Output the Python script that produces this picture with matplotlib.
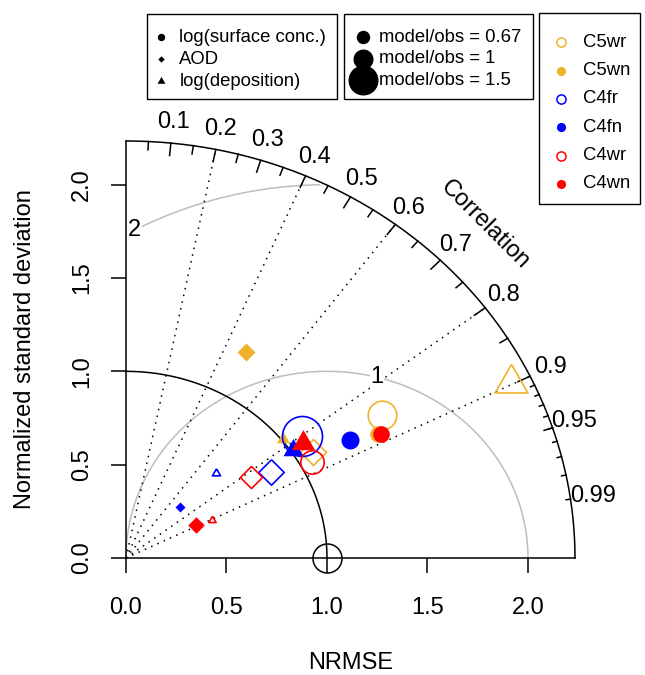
import numpy as np
import matplotlib
matplotlib.use('Agg')
import matplotlib.pyplot as plt
from matplotlib.lines import Line2D
from matplotlib.patches import Rectangle

plt.rcParams['font.family'] = ['Liberation Sans', 'DejaVu Sans']

# models (colour + open/filled) and variables (marker shape)
models = ['C5wr', 'C5wn', 'C4fr', 'C4fn', 'C4wr', 'C4wn']
model_colors = ['#F0B22A', '#F0B22A', '#0000FF', '#0000FF', '#FF0000', '#FF0000']
model_filled = [False, True, False, True, False, True]
variables = ['log(surface conc.)', 'AOD', 'log(deposition)']

# normalized standard deviation, correlation and model/obs ratio, one value per model
sd_surface = [1.485, 1.419, 1.091, 1.281, 1.061, 1.430]
cor_surface = [0.857, 0.884, 0.801, 0.870, 0.874, 0.886]
ratio_surface = [1.43, 0.83, 2.00, 0.90, 1.17, 0.83]

sd_aod = [1.092, 1.255, 0.855, 0.383, 0.758, 0.389]
cor_aod = [0.853, 0.475, 0.842, 0.703, 0.818, 0.891]
ratio_aod = [0.92, 0.90, 0.90, 0.50, 0.78, 0.83]

sd_dep = [2.135, 1.009, 0.638, 1.013, 0.472, 1.075]
cor_dep = [0.898, 0.776, 0.702, 0.821, 0.902, 0.821]
ratio_dep = [1.22, 0.48, 0.30, 0.74, 0.27, 0.86]

ratio_levels = [0.67, 1, 1.5]
ratio_labels = ['model/obs = 0.67', 'model/obs = 1', 'model/obs = 1.5']

corr_ticks = [0.1, 0.2, 0.3, 0.4, 0.5, 0.6, 0.7, 0.8, 0.9, 0.95, 0.99]
corr_lines = [0.2, 0.4, 0.6, 0.8, 0.9]
gamma_levels = [1, 2]
axis_ticks = [0.0, 0.5, 1.0, 1.5, 2.0]
ref_sd = 1.0
maxsd = 2.234

W, H = 645, 675
TRI = [(0, 1), (-0.866, -0.5), (0.866, -0.5), (0, 1)]
DIAM = [(0, 1), (1, 0), (0, -1), (-1, 0), (0, 1)]
BIG = 17
SMALL = 13.3


def fx(px):
    return px / W


def fy(py):
    return 1 - py / H


fig = plt.figure(figsize=(W / 100, H / 100), dpi=100)
ax = fig.add_axes([fx(126), fy(558), (575 - 126) / W, (558 - 141) / H])
ax.set_xlim(0, maxsd)
ax.set_ylim(0, maxsd)
for s in ['top', 'right']:
    ax.spines[s].set_visible(False)
for s in ['bottom', 'left']:
    ax.spines[s].set_linewidth(1.1)

ax.set_xticks(axis_ticks)
ax.set_xticklabels([f'{t:.1f}' for t in axis_ticks], fontsize=BIG)
ax.set_yticks(axis_ticks)
ax.set_yticklabels([f'{t:.1f}' for t in axis_ticks], fontsize=BIG, rotation=90, va='center')
ax.tick_params(axis='both', direction='out', length=10.5, width=1.1)
ax.tick_params(axis='x', pad=17.5)
ax.tick_params(axis='y', pad=13)

ax.set_xlabel('NRMSE', fontsize=BIG, va='center')
ax.xaxis.set_label_coords(0.5, (558 - 663) / 417)
ax.set_ylabel('Normalized standard deviation', fontsize=BIG, va='center')
ax.yaxis.set_label_coords((25 - 126) / 449, 0.5)

# gamma (centred RMS) arcs
theta = np.arange(0, np.pi + 1e-9, 0.03)
for k, g in enumerate(gamma_levels):
    xc = np.cos(theta) * g + ref_sd
    yc = np.sin(theta) * g
    neg = np.where(xc < 0)[0]
    end = neg.min() if len(neg) else len(theta)
    out = np.where(xc ** 2 + yc ** 2 > maxsd ** 2)[0]
    start = out.max() + 1 if len(out) else 0
    ax.plot(xc[start:end], yc[start:end], color='#BEBEBE', lw=1.1, clip_on=False)
    lp = int(round(np.linspace(45, 70, len(gamma_levels))[k])) - 1
    ax.text(xc[lp], yc[lp], str(g), fontsize=BIG, ha='center', va='center',
            bbox=dict(facecolor='white', edgecolor='none', pad=0.5))

# correlation rays
for c in corr_lines:
    ax.plot([0, maxsd * c], [0, maxsd * np.sqrt(1 - c ** 2)], color='black',
            lw=1.1, linestyle=(0, (1, 3.5)), clip_on=False)

# outer arc and its ticks
t = np.linspace(0, np.pi / 2, 200)
ax.plot(maxsd * np.cos(t), maxsd * np.sin(t), color='black', lw=1.1, clip_on=False)
tick_sets = [(np.arange(0.1, 0.91, 0.1), 0.97), (np.arange(0.05, 0.96, 0.1), 0.98),
             (np.arange(0.91, 0.995, 0.01), 0.99)]
for vals, frac in tick_sets:
    for ang in np.arccos(vals):
        ax.plot([np.cos(ang) * maxsd, np.cos(ang) * frac * maxsd],
                [np.sin(ang) * maxsd, np.sin(ang) * frac * maxsd],
                color='black', lw=1.1, clip_on=False)

# reference sd arc and point
ax.plot(ref_sd * np.cos(t), ref_sd * np.sin(t), color='black', lw=1.1, clip_on=False)
ax.plot([ref_sd], [0], marker='o', ms=20.9, mfc='none', mec='black', mew=1.1,
        linestyle='none', clip_on=False)

for c in corr_ticks:
    a = np.arccos(c)
    ax.text(np.cos(a) * 1.05 * maxsd, np.sin(a) * 1.05 * maxsd, f'{c:g}',
            fontsize=BIG, ha='center', va='center')
ax.text(maxsd * 0.8, maxsd * 0.8, 'Correlation', rotation=-45, fontsize=BIG,
        ha='center', va='center', rotation_mode='anchor')

# model points
variable_sets = [
    (sd_surface, cor_surface, ratio_surface, 'o', 14.4, 14.4),
    (sd_aod, cor_aod, ratio_aod, DIAM, 20.4, 14.4),
    (sd_dep, cor_dep, ratio_dep, TRI, 22.4, 22.4),
]
for i, model in enumerate(models):
    for sds, cors, ratios, mk, open_size, fill_size in variable_sets:
        sd, cor, r = sds[i], cors[i], ratios[i]
        x = sd * cor
        y = sd * np.sqrt(1 - cor ** 2)
        if model_filled[i]:
            ax.plot([x], [y], marker=mk, ms=fill_size * r, mfc=model_colors[i],
                    mec=model_colors[i], mew=0, linestyle='none', clip_on=False)
        else:
            ax.plot([x], [y], marker=mk, ms=open_size * r, mfc='none',
                    mec=model_colors[i], mew=1.2, linestyle='none', clip_on=False)


# legends, drawn in pixel positions
def legend_box(x0, y0, x1, y1):
    fig.add_artist(Rectangle((fx(x0), fy(y1)), fx(x1) - fx(x0), fy(y0) - fy(y1),
                             transform=fig.transFigure, fill=False,
                             edgecolor='black', lw=1.0))


def legend_entry(x, y, marker, ms, color, filled, text, tx):
    fig.add_artist(Line2D([fx(x)], [fy(y)], transform=fig.transFigure,
                          marker=marker, ms=ms, linestyle='none',
                          mfc=color if filled else 'none', mec=color,
                          mew=0 if filled else 1.1))
    fig.text(fx(tx), fy(y), text, fontsize=SMALL, ha='left', va='center')


legend_box(146.7, 14, 337, 99.3)
shape_marks = [('o', 5.3), (DIAM, 4.6), (TRI, 6.6)]
for k, (var, (mk, ms)) in enumerate(zip(variables, shape_marks)):
    legend_entry(160.7, 37 + 22 * k, mk, ms, 'black', True, var, 179.3)

legend_box(344, 14, 532.7, 99.3)
for k, (rl, lab) in enumerate(zip(ratio_levels, ratio_labels)):
    legend_entry(363, 37 + 21.7 * k, 'o', 14.4 * rl, 'black', True, lab, 379.3)

legend_box(539.3, 13.3, 640, 204.3)
for k, m in enumerate(models):
    legend_entry(560.7, 42.3 + 28.3 * k, 'o', 6.6, model_colors[k], model_filled[k], m, 582.7)

fig.savefig('out.png', dpi=100)
